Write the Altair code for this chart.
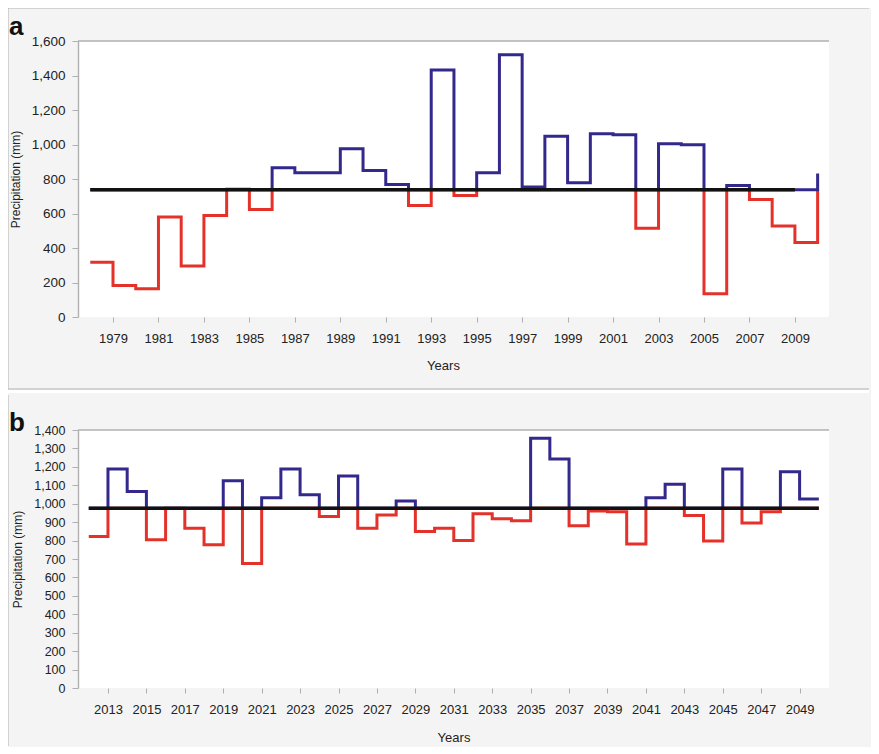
import altair as alt
import pandas as pd

# ---- data ----
years_a = list(range(1978, 2011))
precip_a = [318, 183, 164, 579, 295, 589, 740, 623, 865, 836,
            836, 975, 849, 768, 647, 1432, 704, 836, 1521, 753,
            1048, 778, 1063, 1056, 515, 1004, 998, 135, 762, 681,
            527, 432, 832]
mean_a = 738
ticks_a = list(range(1979, 2010, 2))
yticks_a = [0, 200, 400, 600, 800, 1000, 1200, 1400, 1600]

years_b = list(range(2012, 2051))
precip_b = [822, 1189, 1066, 804, 975, 867, 777, 1124, 676, 1033,
            1189, 1048, 930, 1151, 867, 939, 1015, 849, 867, 800,
            945, 918, 907, 1355, 1243, 880, 961, 956, 782, 1033,
            1106, 936, 798, 1189, 896, 957, 1174, 1026, 1026]
mean_b = 976
ticks_b = list(range(2013, 2050, 2))
yticks_b = [0, 100, 200, 300, 400, 500, 600, 700, 800, 900, 1000, 1100, 1200, 1300, 1400]

RED = "#e4322b"
BLUE = "#33288c"
GRAY = "#b0b0b0"
BG = "#f4f4f4"
TXT = "#222222"
W = 751


def panel(years, vals, mean, mean_x, xdom, ymax, yticks, xticks, h, letter,
          letter_y, title_x, lab_pad, title_pad, ylab_size, frame):
    df = pd.DataFrame({"year": years, "precip": vals})
    df["low"] = df["precip"].clip(upper=mean)
    df["high"] = df["precip"].clip(lower=mean)
    one = pd.DataFrame({"k": [0]})
    mdf = pd.DataFrame({"x1": [mean_x[0]], "x2": [mean_x[1]], "m": [mean]})

    xenc = alt.X("year:Q",
                 scale=alt.Scale(domain=xdom, nice=False, zero=False),
                 axis=alt.Axis(values=xticks, format="d", title="Years",
                               domain=False, grid=False, tickColor=GRAY,
                               tickSize=5, tickWidth=1, labelPadding=lab_pad,
                               labelFontSize=13, labelColor=TXT,
                               titleFontSize=13, titleFontWeight="normal",
                               titleColor=TXT, titlePadding=title_pad,
                               titleX=title_x, labelFlush=False))
    yscale = alt.Scale(domain=[0, ymax], nice=False)
    yaxis = alt.Axis(values=yticks, format=",d", title="Precipitation (mm)",
                     domainColor=GRAY, domainWidth=1.4, grid=False,
                     tickColor=GRAY, tickSize=6, tickWidth=1,
                     labelPadding=7, labelFontSize=ylab_size, labelColor=TXT,
                     titleFontSize=12, titleFontWeight="normal",
                     titleColor=TXT, titlePadding=9, labelFlush=False)

    base = alt.Chart(df).encode(x=xenc)
    red = base.mark_line(interpolate="step-after", color=RED, strokeWidth=3,
                         strokeJoin="miter", strokeCap="butt").encode(
        y=alt.Y("low:Q", scale=yscale, axis=yaxis))
    blue = base.mark_line(interpolate="step-after", color=BLUE, strokeWidth=3,
                          strokeJoin="miter", strokeCap="butt").encode(
        y=alt.Y("high:Q", scale=yscale, axis=yaxis))
    mline = alt.Chart(mdf).mark_rule(color="#111111", strokeWidth=3.5).encode(
        x="x1:Q", x2="x2:Q", y=alt.Y("m:Q", scale=yscale, axis=yaxis))

    topb = alt.Chart(one).mark_rule(color=GRAY, strokeWidth=1.6).encode(
        x=alt.value(0), x2=alt.value(W), y=alt.value(0))
    lab = alt.Chart(one).mark_text(text=letter, fontSize=26, fontWeight="bold",
                                   align="left", baseline="alphabetic",
                                   color="#111111").encode(
        x=alt.value(-69), y=alt.value(letter_y))

    layers = [red, blue, mline, topb, lab]
    for (x1, x2, y1, y2, col, sw) in frame:
        if y2 is None:
            layers.append(alt.Chart(one).mark_rule(color=col, strokeWidth=sw).encode(
                x=alt.value(x1), x2=alt.value(x2), y=alt.value(y1)))
        else:
            layers.append(alt.Chart(one).mark_rule(color=col, strokeWidth=sw).encode(
                x=alt.value(x1), y=alt.value(y1), y2=alt.value(y2)))
    return alt.layer(*layers).properties(width=W, height=h)


frame_a = [
    (-71, 791, -34, None, BG, 1),        # layout anchor (invisible)
    (-71, None, -34, 348, BG, 1),        # layout anchor (invisible)
    (-70, 791, -33, None, GRAY, 1),      # top frame line
    (-70, None, -33, 348, GRAY, 1),      # left frame line
    (-70, 791, 348, None, GRAY, 1.2),    # bottom frame line
    (-70, 791, 350.5, None, "white", 3),  # gap between panels
]
frame_b = [
    (-71, None, -35, 316, BG, 1),
    (-70, None, -35, 316, GRAY, 1),
]

pa = panel(years_a, precip_a, mean_a, (1978, 2009), [1977.46, 2010.5], 1600,
           yticks_a, ticks_a, 276, "a", -6, 365, 10, 14, 13.5, frame_a)
pb = panel(years_b, precip_b, mean_b, (2012, 2050), [2011.44, 2050.53], 1400,
           yticks_b, ticks_b, 258, "b", 1, 375.5, 10, 15, 12.5, frame_b)

chart = alt.vconcat(pa, pb, spacing=113, bounds="flush").properties(
    padding={"left": -2, "top": -2, "right": 0, "bottom": 0}
).configure(
    background=BG, font="Liberation Sans"
).configure_view(fill="white", strokeWidth=0)

chart.save("out.html", embed_options={"renderer": "svg", "actions": False})
